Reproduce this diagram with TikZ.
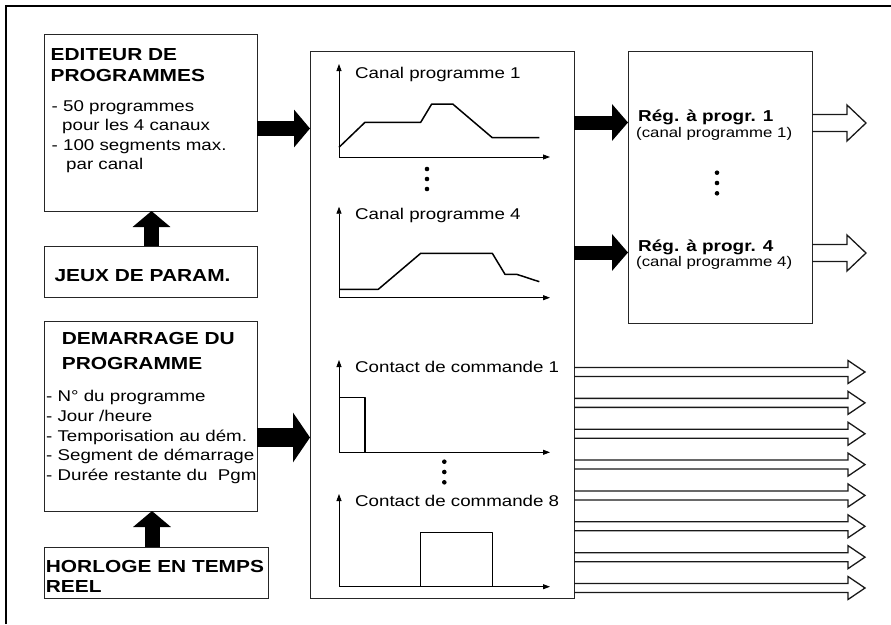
\documentclass[tikz,border=0pt]{standalone}
\usepackage{fontspec}
\setmainfont{Liberation Sans}[FakeStretch=1.2]
\usetikzlibrary{arrows.meta,calc}
\begin{document}
\begin{tikzpicture}[x=1pt,y=-1pt,
  box/.style={draw=black!85, line width=0.9pt, inner sep=0pt, outer sep=0pt, anchor=north west},
  hdr/.style={font=\fontsize{17.4}{20}\selectfont\bfseries, anchor=base west, inner sep=0pt},
  reghdr/.style={font=\fontsize{15.8}{19}\selectfont\bfseries, anchor=base west, inner sep=0pt},
  txt/.style={font=\fontsize{15.6}{19}\selectfont, anchor=base west, inner sep=0pt},
  smalltxt/.style={font=\fontsize{14}{17}\selectfont, anchor=base west, inner sep=0pt},
  fat/.style={line width=15pt, -{Triangle[width=37pt,length=16pt]}},
  fatbig/.style={line width=18.5pt, -{Triangle[width=49pt,length=17pt]}},
  fatmid/.style={line width=14pt, -{Triangle[width=36pt,length=16pt]}},
  axis/.style={line width=0.8pt, {Triangle[width=5pt,length=7pt]}-{Triangle[width=5pt,length=7pt]}},
  curve/.style={line width=1.5pt, line join=round},
  hollow/.style={line width=1.3pt, line join=miter, draw=black!90},
  dot/.style={circle, fill=black, inner sep=0pt, minimum size=4.6pt},
]
\useasboundingbox (0,0) rectangle (891,624);
% outer frame (cropped)
\draw[line width=2pt] (6,624) -- (6,6) -- (891,6);

% boxes
\node[box, minimum width=213pt, minimum height=177pt] (ed) at (44,34) {};
\node[box, minimum width=213pt, minimum height=51pt] (jeux) at (44,246) {};
\node[box, minimum width=213pt, minimum height=190pt] (dem) at (44,321) {};
\node[box, minimum width=224pt, minimum height=51pt] (horl) at (44,547) {};
\node[box, minimum width=264pt, minimum height=547pt] (mid) at (310,51) {};
\node[box, minimum width=184pt, minimum height=272pt] (reg) at (628,51) {};

% texts editeur
\node[hdr] (ed1) at (50.5,60) {EDITEUR DE};
\node[hdr] (ed2) at (50.5,81.5) {PROGRAMMES};
\node[txt] (ed3) at (51.5,111) {- 50 programmes};
\node[txt] (ed4) at (62,130.5) {pour les 4 canaux};
\node[txt] (ed5) at (51.5,150) {- 100 segments max.};
\node[txt] (ed6) at (66,169.5) {par canal};
% jeux
\node[hdr] (je1) at (54.3,281) {JEUX DE PARAM.};
% demarrage
\node[hdr] (de1) at (61.7,344.5) {DEMARRAGE DU};
\node[hdr] (de2) at (61.7,369.5) {PROGRAMME};
\node[txt] (de3) at (46,401.5) {- N° du programme};
\node[txt] (de4) at (46,421.2) {- Jour /heure};
\node[txt] (de5) at (46,441) {- Temporisation au dém.};
\node[txt] (de6) at (46,460.7) {- Segment de démarrage};
\node[txt] (de7) at (46,480.4) {- Durée restante du\ \ Pgm};
% horloge
\node[hdr] (ho1) at (45.7,572) {HORLOGE EN TEMPS};
\node[hdr] (ho2) at (45.7,592) {REEL};
% reg box
\node[reghdr] (rg1) at (638,121.5) {Rég. à progr. 1};
\node[smalltxt] (rg2) at (636,137) {(canal programme 1)};
\node[reghdr] (rg3) at (638,251) {Rég. à progr. 4};
\node[smalltxt] (rg4) at (636,266) {(canal programme 4)};
\node[dot] (rd1) at (717,172.7) {};
\node[dot] (rd2) at (717,183) {};
\node[dot] (rd3) at (717,193.3) {};

% graphs
\draw[axis] (339,64) -- (339,157) -- (550,157);
\draw[curve] (339,147.3) -- (365,122.3) -- (420.7,122.3) -- (431.7,104) -- (452.7,104) -- (492.3,137.7) -- (539.3,137.7);
\node[txt] (g1) at (355,78.3) {Canal programme 1};
\node[dot] (gd1) at (427,169) {};
\node[dot] (gd2) at (427,179) {};
\node[dot] (gd3) at (427,189) {};

\draw[axis] (339,206.7) -- (339,297.7) -- (550,297.7);
\draw[curve] (339,289.3) -- (378.3,289.3) -- (420.7,253.3) -- (492.3,253.3) -- (505,274.3) -- (516.7,274.3) -- (539.3,281.7);
\node[txt] (g2) at (355,219) {Canal programme 4};

\draw[axis] (339,360) -- (339,452.3) -- (550,452.3);
\draw[curve] (339,397.7) -- (365,397.7) -- (365,452.3);
\node[txt] (g3) at (355,372.7) {Contact de commande 1};
\node[dot] (gd4) at (444.3,461.7) {};
\node[dot] (gd5) at (444.3,472) {};
\node[dot] (gd6) at (444.3,482.3) {};

\draw[axis] (339,494) -- (339,586.7) -- (550,586.7);
\draw[curve] (420.7,586.7) -- (420.7,532.3) -- (492.3,532.3) -- (492.3,586.7);
\node[txt] (g4) at (355,506.7) {Contact de commande 8};

% fat arrows
\coordinate (ya) at (0,128.5);
\coordinate (yb) at (0,437.5);
\coordinate (yc) at (0,122.5);
\coordinate (yd) at (0,252.5);
\draw[fat] (ed.east |- ya) -- (mid.west |- ya);
\draw[fat] ([xshift=1pt]jeux.north) -- ([xshift=1pt]ed.south);
\draw[fatbig] (dem.east |- yb) -- (mid.west |- yb);
\draw[fat] ([xshift=1.5pt]dem.south |- horl.north) -- ([xshift=1.5pt]dem.south);
\draw[fatmid] (mid.east |- yc) -- (reg.west |- yc);
\draw[fatmid] (mid.east |- yd) -- (reg.west |- yd);

% hollow arrows from reg
\coordinate (ye) at (0,123);
\coordinate (yf) at (0,253);
\foreach \c in {ye,yf}{
  \draw[hollow] ($(reg.east |- \c)+(0,-8.5)$) -- ++(35,0) -- ++(0,-9.5) -- ++(19,18) -- ++(-19,18) -- ++(0,-9.5) -- ++(-35,0);
}
% hollow arrows from mid
\foreach \i in {0,...,7}{
  \pgfmathsetmacro\yy{372+30.857*\i}
  \coordinate (h\i) at (0,\yy);
  \draw[hollow] ($(mid.east |- h\i)+(0,-4.5)$) -- ++(274,0) -- ++(0,-7) -- ++(17,11.5) -- ++(-17,11.5) -- ++(0,-7) -- ++(-274,0);
}
\end{tikzpicture}
\end{document}
